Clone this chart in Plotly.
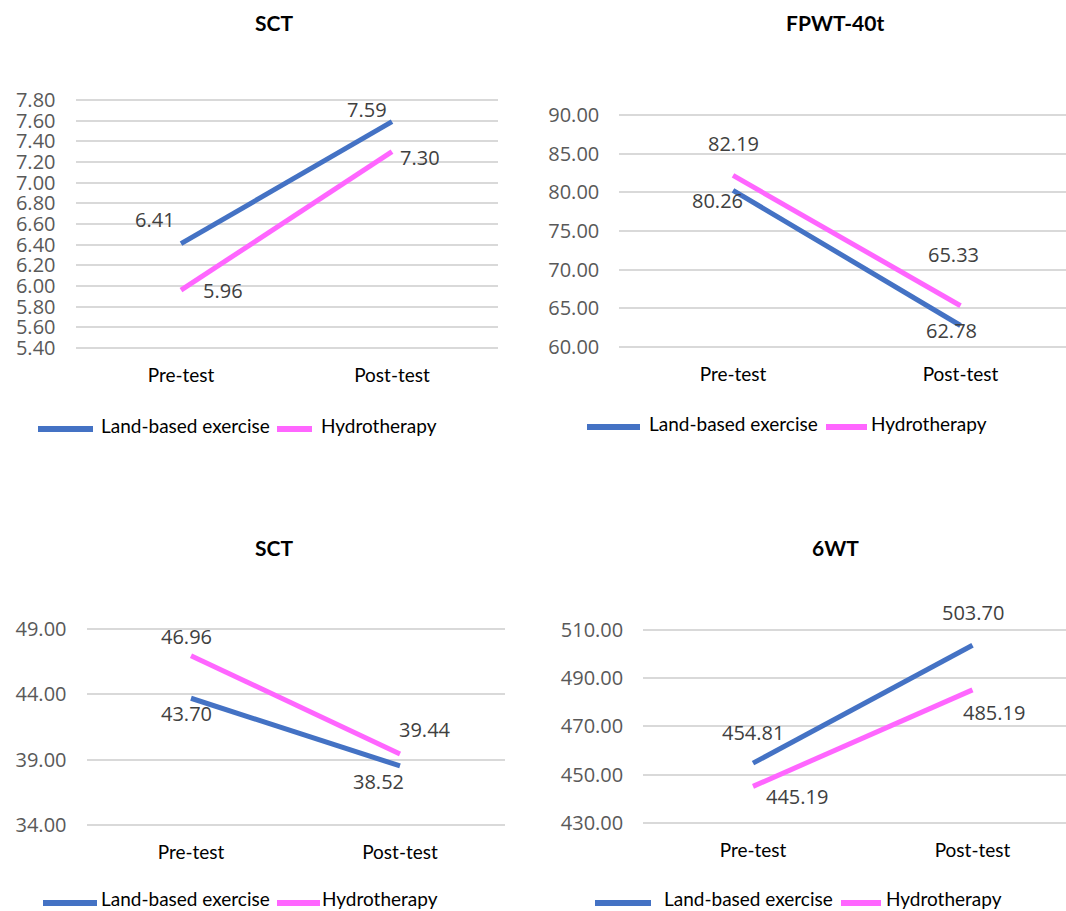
import plotly.graph_objects as go

# ---------------------------------------------------------------- data
categories = ["Pre-test", "Post-test"]
series_names = ["Land-based exercise", "Hydrotherapy"]
series_colors = ["#4472C4", "#FF66FF"]

titles = ["SCT", "FPWT-40t", "SCT", "6WT"]

# panel 1: SCT
sct1_land = [6.41, 7.59]
sct1_hydro = [5.96, 7.30]
sct1_ticks = [5.40, 5.60, 5.80, 6.00, 6.20, 6.40, 6.60, 6.80, 7.00, 7.20, 7.40, 7.60, 7.80]

# panel 2: FPWT-40t
fpwt_land = [80.26, 62.78]
fpwt_hydro = [82.19, 65.33]
fpwt_ticks = [60.00, 65.00, 70.00, 75.00, 80.00, 85.00, 90.00]

# panel 3: SCT
sct2_land = [43.70, 38.52]
sct2_hydro = [46.96, 39.44]
sct2_ticks = [34.00, 39.00, 44.00, 49.00]

# panel 4: 6WT
wt6_land = [454.81, 503.70]
wt6_hydro = [445.19, 485.19]
wt6_ticks = [430.00, 450.00, 470.00, 490.00, 510.00]

# ---------------------------------------------------------------- layout
W, H = 1066, 911
NUM_FONT = "Open Sans"
TXT_FONT = "Lato"

# per panel: pre/post x pixel, y pixel of lowest / highest tick,
# title centre, legend pieces, label offsets (dx, dy) for land and hydro
panels = [
    dict(land=sct1_land, hydro=sct1_hydro, ticks=sct1_ticks,
         px=(181, 392), py=(348, 100), title=(274, 22),
         leg=dict(y=429, ty=425, blue=(38, 93), t1=100, pink=(277, 312), t2=320),
         off_land=[(-26, -24), (-25, -12)], off_hydro=[(42, 0), (28, 6)]),
    dict(land=fpwt_land, hydro=fpwt_hydro, ticks=fpwt_ticks,
         px=(733, 960.5), py=(347, 115), title=(835, 22),
         leg=dict(y=427, ty=423, blue=(587, 640), t1=648, pink=(826, 867), t2=870),
         off_land=[(-16, 10), (-9, 5)], off_hydro=[(0, -32), (-7, -51)]),
    dict(land=sct2_land, hydro=sct2_hydro, ticks=sct2_ticks,
         px=(191, 400), py=(825, 629), title=(274, 547),
         leg=dict(y=903, ty=898, blue=(43, 97), t1=100, pink=(277, 320), t2=321),
         off_land=[(-5, 15), (-22, 16)], off_hydro=[(-5, -19), (25, -24)]),
    dict(land=wt6_land, hydro=wt6_hydro, ticks=wt6_ticks,
         px=(753, 972.5), py=(823, 630), title=(835, 547),
         leg=dict(y=903, ty=898, blue=(595, 651), t1=663, pink=(841, 881), t2=885),
         off_land=[(0, -31), (0, -32.5)], off_hydro=[(44, 10), (21, 23)]),
]

fig = go.Figure()
annotations = []
shapes = []

for i, p in enumerate(panels, start=1):
    xa = "x" if i == 1 else f"x{i}"
    ya = "y" if i == 1 else f"y{i}"

    # x axis: two categories at fixed pixel centres
    pre, post = p["px"]
    half = post - pre
    x_start = pre - half / 2
    x_end = min(x_start + 2 * half, W)
    x_range = [-0.5, (x_end - x_start) / half - 0.5]

    # y axis: lowest tick at py[0], highest at py[1], small padding
    lo, hi = p["ticks"][0], p["ticks"][-1]
    ybot, ytop = p["py"]
    scale = (ybot - ytop) / (hi - lo)
    pad = 0.015 * (hi - lo)
    dom_top = ytop - pad * scale
    dom_bot = ybot + pad * scale

    fig.update_layout({
        ("xaxis" if i == 1 else f"xaxis{i}"): dict(
            domain=[x_start / W, x_end / W], anchor=ya,
            type="category", categoryorder="array", categoryarray=categories,
            range=x_range, showgrid=False, zeroline=False, showline=False,
            automargin=False,
            ticks="", tickfont=dict(family=TXT_FONT, size=19, color="#000000"),
            ticklabelstandoff=int(round(ybot + 25 - dom_bot - 11)),
        ),
        ("yaxis" if i == 1 else f"yaxis{i}"): dict(
            domain=[1 - dom_bot / H, 1 - dom_top / H], anchor=xa,
            range=[lo - pad, hi + pad], tickmode="array", automargin=False,
            tickvals=p["ticks"], ticktext=[f"{t:.2f}" for t in p["ticks"]],
            showgrid=True, gridcolor="#D9D9D9", gridwidth=2,
            zeroline=False, showline=False, ticks="",
            tickfont=dict(family=NUM_FONT, size=20, color="#595959"),
            ticklabelstandoff=19,
        ),
    })

    for name, color, vals, offs in [
        (series_names[0], series_colors[0], p["land"], p["off_land"]),
        (series_names[1], series_colors[1], p["hydro"], p["off_hydro"]),
    ]:
        fig.add_trace(go.Scatter(
            x=categories, y=vals, mode="lines", name=name,
            line=dict(color=color, width=5), xaxis=xa, yaxis=ya,
            showlegend=False, hoverinfo="skip",
        ))
        for cat, v, (dx, dy) in zip(categories, vals, offs):
            annotations.append(dict(
                x=cat, y=v, xref=xa, yref=ya, text=f"{v:.2f}",
                showarrow=False, xshift=dx, yshift=-dy,
                xanchor="center", yanchor="middle",
                font=dict(family=NUM_FONT, size=20, color="#404040"),
            ))

    # panel title
    tx, ty = p["title"]
    annotations.append(dict(
        x=tx / W, y=1 - ty / H, xref="paper", yref="paper",
        text=f"<b>{titles[i - 1]}</b>", showarrow=False,
        xanchor="center", yanchor="middle",
        font=dict(family=TXT_FONT, size=21, color="#000000"),
    ))

    # legend row under each panel
    lg = p["leg"]
    for (lx0, lx1), tx0, color, name in [
        (lg["blue"], lg["t1"], series_colors[0], series_names[0]),
        (lg["pink"], lg["t2"], series_colors[1], series_names[1]),
    ]:
        shapes.append(dict(
            type="line", xref="paper", yref="paper",
            x0=lx0 / W, x1=lx1 / W, y0=1 - lg["y"] / H, y1=1 - lg["y"] / H,
            line=dict(color=color, width=6),
        ))
        annotations.append(dict(
            x=tx0 / W, y=1 - lg["ty"] / H, xref="paper", yref="paper",
            text=name, showarrow=False, xanchor="left", yanchor="middle",
            borderpad=0,
            font=dict(family=TXT_FONT, size=19, color="#000000"),
        ))

fig.update_layout(
    width=W, height=H,
    margin=dict(l=0, r=0, t=0, b=0, autoexpand=False),
    paper_bgcolor="#FFFFFF", plot_bgcolor="#FFFFFF",
    annotations=annotations, shapes=shapes,
    showlegend=False,
)

fig.write_html("out.html")
